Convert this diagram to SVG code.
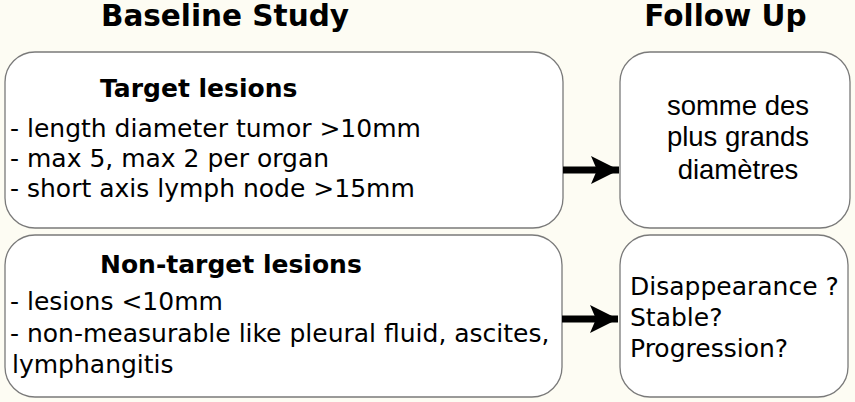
<svg xmlns="http://www.w3.org/2000/svg" width="855" height="402" viewBox="0 0 855 402">
<defs>
<style>
.box{fill:#ffffff;stroke:#7a7a7a;stroke-width:1.3}
.title{font-family:"DejaVu Sans",Verdana,sans-serif;font-weight:bold;font-size:29.5px;fill:#000}
.head{font-family:"DejaVu Sans",Verdana,sans-serif;font-weight:bold;font-size:25px;fill:#000}
.t{font-family:"DejaVu Sans",Verdana,sans-serif;font-size:25px;fill:#000}
.a{font-family:"Liberation Sans",Arial,sans-serif;font-size:27.5px;fill:#000}
.conn{stroke:#000;stroke-width:7;fill:none}
</style>
<marker id="ah" viewBox="0 0 28 28" refX="28" refY="14" markerWidth="28" markerHeight="28" markerUnits="userSpaceOnUse" orient="auto">
<path d="M0,0 L28,14 L0,28 L6,14 Z" fill="#000"/>
</marker>
</defs>
<rect width="855" height="402" fill="#fdfcf3"/>
<text class="title" x="225" y="26" text-anchor="middle">Baseline Study</text>
<text class="title" x="725.5" y="26" text-anchor="middle">Follow Up</text>
<g id="target">
<rect class="box" x="5" y="52" width="558" height="176" rx="30" ry="30"/>
<text class="head" x="100" y="97">Target lesions</text>
<text class="t" x="10" y="137">- length diameter tumor &gt;10mm</text>
<text class="t" x="10" y="167">- max 5, max 2 per organ</text>
<text class="t" x="10" y="197">- short axis lymph node &gt;15mm</text>
</g>
<g id="sum">
<rect class="box" x="620" y="52" width="230" height="176" rx="30" ry="30"/>
<text class="a" x="738" y="115" text-anchor="middle">somme des</text>
<text class="a" x="738" y="146" text-anchor="middle">plus grands</text>
<text class="a" x="738" y="179" text-anchor="middle">diamètres</text>
</g>
<g id="nontarget">
<rect class="box" x="5" y="235" width="557" height="162" rx="30" ry="30"/>
<text class="head" x="100" y="273">Non-target lesions</text>
<text class="t" x="10" y="310">- lesions &lt;10mm</text>
<text class="t" x="10" y="342">- non-measurable like pleural fluid, ascites,</text>
<text class="t" x="12" y="373">lymphangitis</text>
</g>
<g id="response">
<rect class="box" x="620" y="235" width="228" height="162" rx="30" ry="30"/>
<text class="t" x="630" y="295">Disappearance ?</text>
<text class="t" x="630" y="326">Stable?</text>
<text class="t" x="630" y="357">Progression?</text>
</g>
<g id="connectors">
<line class="conn" x1="563" y1="170" x2="619" y2="170" marker-end="url(#ah)"/>
<line class="conn" x1="562" y1="319" x2="618" y2="319" marker-end="url(#ah)"/>
</g>
</svg>
